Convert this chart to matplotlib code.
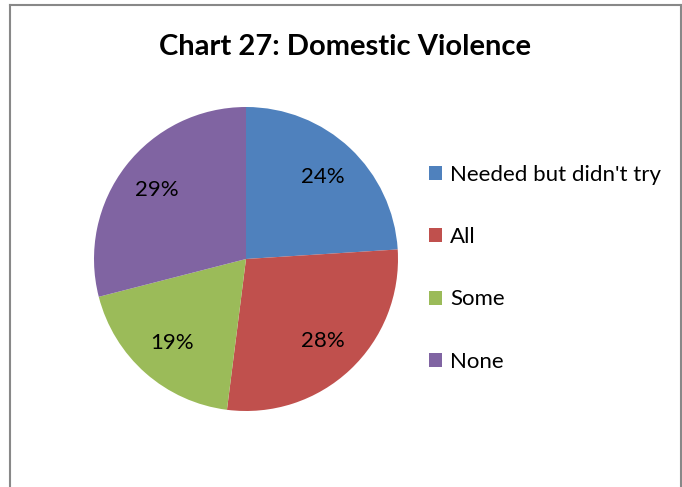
import matplotlib.pyplot as plt
from matplotlib.lines import Line2D
from matplotlib.patches import Patch

categories = ["Needed but didn't try", "All", "Some", "None"]
shares = [24, 28, 19, 29]
colors = ["#4F81BD", "#C0504D", "#9BBB59", "#8064A2"]
title = "Chart 27: Domestic Violence"

W, H = 682, 487
plt.rcParams["font.family"] = ["Lato", "DejaVu Sans"]

fig = plt.figure(figsize=(W / 100, H / 100), dpi=100)
fig.patch.set_facecolor("white")

# chart area frame (bottom edge runs off the canvas)
frame_kw = dict(color="#888888", linewidth=1.5, transform=None)
fig.add_artist(Line2D([10, 10], [0, H - 5], **frame_kw))
fig.add_artist(Line2D([10, 681], [H - 5, H - 5], **frame_kw))
fig.add_artist(Line2D([681, 681], [0, H - 5], **frame_kw))

# pie: centre (246, 259) px from top-left, radius 152 px
cx, cy, r = 246, H - 259, 152
ax = fig.add_axes([(cx - r) / W, (cy - r) / H, 2 * r / W, 2 * r / H])
wedges, _, autotexts = ax.pie(
    shares,
    colors=colors,
    startangle=90,
    counterclock=False,
    radius=1.0,
    autopct=lambda p: f"{p:.0f}%",
    pctdistance=0.74,
    wedgeprops={"linewidth": 0},
    textprops={"fontsize": 16, "color": "black"},
)
ax.set_xlim(-1, 1)
ax.set_ylim(-1, 1)
ax.set_aspect("equal")
ax.axis("off")

fig.text(345 / W, 1 - 47 / H, title, ha="center", va="center",
         fontsize=21, fontweight="bold")

handles = [Patch(facecolor=c, edgecolor="none", label=l) for c, l in zip(colors, categories)]
fig.legend(
    handles=handles,
    loc="upper left",
    bbox_to_anchor=(429 / W, 1 - 165 / H),
    frameon=False,
    fontsize=16,
    handlelength=0.6,
    handleheight=0.6,
    handletextpad=0.35,
    labelspacing=1.9,
    borderpad=0,
    borderaxespad=0,
)

fig.savefig("out.png", dpi=100, facecolor="white")
